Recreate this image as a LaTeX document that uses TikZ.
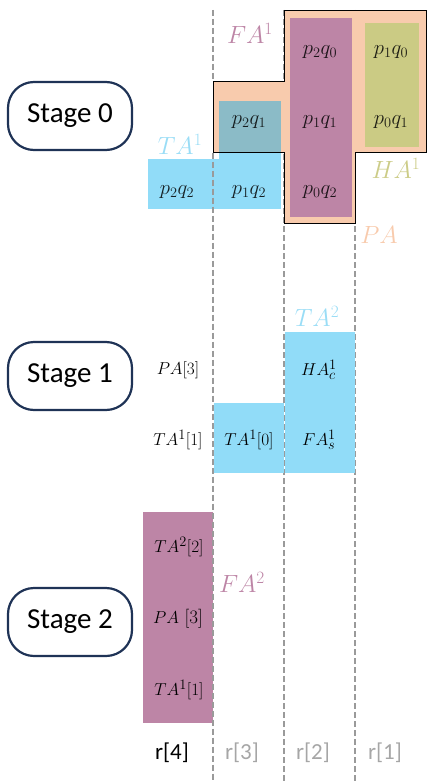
\documentclass[tikz,border=0pt]{standalone}
\usepackage{fontspec}
\setsansfont{Carlito}
\definecolor{peach}{HTML}{F8CBAD}
\definecolor{fapurple}{HTML}{BD85A6}
\definecolor{haolive}{HTML}{CBCB84}
\definecolor{tablue}{HTML}{91DCF8}
\definecolor{tateal}{HTML}{8BBBC7}
\definecolor{navy}{HTML}{1F3356}
\definecolor{rgray}{HTML}{A6A6A6}
\definecolor{dgray}{HTML}{9A9A9A}
\definecolor{labblue}{HTML}{9ADDF6}
\definecolor{labolive}{HTML}{CCCC88}
\definecolor{labpurple}{HTML}{BD85A6}
\begin{document}
\begin{tikzpicture}[x=1pt,y=-1pt,
  stagebox/.style={draw=navy,line width=2.2pt,rounded corners=26pt,minimum width=124pt,minimum height=68pt,font=\sffamily\fontsize{29}{31}\selectfont,inner sep=0pt},
  guide/.style={draw=dgray,line width=2.2pt,dash pattern=on 6pt off 3pt},
  cell/.style={font=\fontsize{22.5}{24}\selectfont,text opacity=0.85,inner sep=0pt},
  small/.style={font=\fontsize{19}{21}\selectfont,inner sep=0pt},
  biglab/.style={font=\fontsize{26}{28}\selectfont,inner sep=0pt},
  rlab/.style={font=\sffamily\fontsize{23}{25}\selectfont,inner sep=0pt}]
\useasboundingbox (0,0) rectangle (438,781);
% stage boxes
\node[stagebox] (s0) at (70,116) {Stage 0};
\node[stagebox] (s1) at (70,376) {Stage 1};
\node[stagebox] (s2) at (70,622) {Stage 2};
% guides hidden under PA (drawn first)
\draw[guide] (284.3,10) -- (284.3,781);
\draw[guide] (355.3,10) -- (355.3,781);
% PA region
\fill[peach] (284.3,10.7) -- (426.7,10.7) -- (426.7,152.7) -- (355.3,152.7) -- (355.3,223.3) -- (284.3,223.3) -- (284.3,152.7) -- (213.3,152.7) -- (213.3,81.7) -- (284.3,81.7) -- cycle;
% FA1 and HA1
\fill[fapurple] (290,18.3) rectangle (352,216.7);
\fill[haolive] (365.3,23.3) rectangle (418.7,146.7);
% TA1 L-shape
\fill[tablue] (148.3,159) rectangle (280.7,209);
\fill[tablue] (219,152.7) rectangle (280.7,159);
\fill[tateal] (219,101) rectangle (280.7,152.7);
% PA outline
\draw[black,line width=1.1pt] (284.3,10.7) -- (426.7,10.7) -- (426.7,152.7) -- (355.3,152.7) -- (355.3,223.3) -- (284.3,223.3) -- (284.3,152.7) -- (213.3,152.7) -- (213.3,81.7) -- (284.3,81.7) -- cycle;
% stage 1 boxes
\fill[tablue] (285,332) rectangle (355,473);
\fill[tablue] (214,403) rectangle (284,473);
% stage 2 box
\fill[fapurple] (143.3,512.3) rectangle (213.3,723.3);
% guide at r[4]/r[3] on top
\draw[guide] (213.3,10) -- (213.3,81.7);
\draw[guide] (213.3,152.7) -- (213.3,781);
% cells stage 0
\node[cell] (c20) at (320,52) {$p_2q_0$};
\node[cell] (c10) at (391,52) {$p_1q_0$};
\node[cell] (c21) at (249,122) {$p_2q_1$};
\node[cell] (c11) at (320,122) {$p_1q_1$};
\node[cell] (c01) at (391,122) {$p_0q_1$};
\node[cell] (c22) at (177,192) {$p_2q_2$};
\node[cell] (c12) at (249,192) {$p_1q_2$};
\node[cell] (c02) at (320,192) {$p_0q_2$};
% big labels
\node[biglab,text=labpurple] (lfa1) at (250,33) {$FA^1$};
\node[biglab,text=labblue] (lta1) at (180,144) {$TA^1$};
\node[biglab,text=labolive] (lha1) at (396,168) {$HA^1$};
\node[biglab,text=peach] (lpa) at (379,235) {$PA$};
\node[biglab,text=labblue] (lta2) at (317,316) {$TA^2$};
\node[biglab,text=labpurple] (lfa2) at (242,582) {$FA^2$};
% stage 1 labels
\node[small] (pa3a) at (178,370) {$PA[3]$};
\node[small] (ta11a) at (178,440) {$TA^1[1]$};
\node[small] (ta10) at (249,440) {$TA^1[0]$};
\node[small] (hac) at (319,370) {$HA_c^1$};
\node[small] (fas) at (319,440) {$FA_s^1$};
% stage 2 labels
\node[small] (ta22) at (179,547) {$TA^2[2]$};
\node[small] (pa3b) at (178,619) {$PA$ [3]};
\node[small] (ta11b) at (179,690) {$TA^1[1]$};
% r labels
\node[rlab] (r4) at (172,753) {r[4]};
\node[rlab,text=rgray] (r3) at (242,753) {r[3]};
\node[rlab,text=rgray] (r2) at (313,753) {r[2]};
\node[rlab,text=rgray] (r1) at (385,753) {r[1]};
\end{tikzpicture}
\end{document}
